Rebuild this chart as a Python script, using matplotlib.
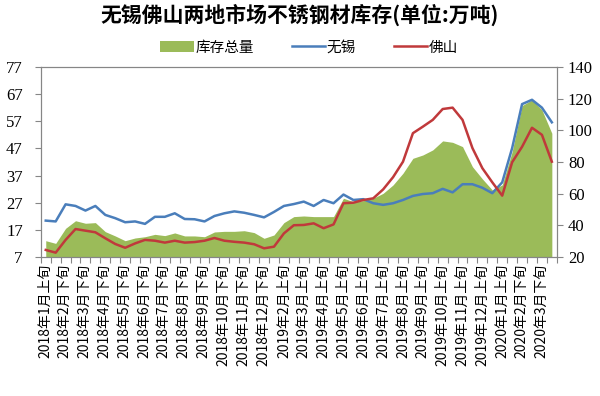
#!/usr/bin/env python3

'''
    Stainless steel inventory in Wuxi and Foshan: total as area (right axis),
    each market as a line (left axis).
'''

import matplotlib
matplotlib.use("Agg")
import matplotlib.pyplot as plt
from matplotlib.patches import Patch
from matplotlib.lines import Line2D

plt.rcParams['font.family'] = ['Noto Sans CJK SC', 'DejaVu Sans']

tick_labels = ["2018年1月上旬", "2018年2月下旬", "2018年3月下旬", "2018年4月下旬",
               "2018年5月下旬", "2018年6月下旬", "2018年7月下旬", "2018年8月下旬",
               "2018年9月下旬", "2018年10月下旬", "2018年11月下旬", "2018年12月下旬",
               "2019年2月上旬", "2019年3月上旬", "2019年4月上旬", "2019年5月上旬",
               "2019年6月上旬", "2019年7月上旬", "2019年8月上旬", "2019年9月上旬",
               "2019年10月上旬", "2019年11月上旬", "2019年12月上旬", "2020年1月上旬",
               "2020年2月下旬", "2020年3月下旬"]

wuxi = [20.4, 20.1, 26.4, 25.8, 24.1, 25.8, 22.5, 21.3, 19.8, 20.1,
        19.2, 21.8, 21.8, 23.1, 21.0, 20.9, 20.1, 22.1, 23.1, 23.8,
        23.3, 22.5, 21.6, 23.6, 25.8, 26.5, 27.4, 25.8, 28.0, 26.8,
        30.0, 28.0, 28.3, 26.8, 26.2, 26.8, 28.0, 29.5, 30.2, 30.5,
        32.1, 30.8, 33.8, 33.8, 32.5, 30.5, 34.5, 47.1, 63.3, 64.9,
        62.0, 56.6]

foshan = [9.6, 8.6, 13.3, 17.3, 16.7, 16.1, 13.9, 11.8, 10.4, 12.0,
          13.3, 13.0, 12.3, 13.0, 12.3, 12.5, 13.0, 14.0, 13.0, 12.6,
          12.3, 11.7, 10.2, 10.8, 15.7, 18.7, 18.8, 19.4, 17.6, 19.0,
          26.8, 27.0, 28.0, 28.6, 31.9, 36.4, 42.1, 52.6, 55.0, 57.5,
          61.5, 62.0, 57.5, 47.1, 39.7, 34.5, 29.6, 41.9, 47.6, 54.6,
          52.0, 42.1]

total = [30.3, 28.6, 38.1, 42.9, 41.3, 41.7, 36.0, 33.3, 30.3, 32.0,
         32.8, 34.3, 33.5, 35.2, 33.3, 33.3, 32.8, 35.8, 36.2, 36.2,
         36.6, 35.4, 31.8, 33.9, 41.7, 45.5, 45.9, 45.5, 45.5, 45.5,
         57.1, 54.9, 55.6, 57.1, 60.2, 65.5, 72.9, 82.3, 84.4, 87.6,
         93.3, 92.4, 89.7, 77.0, 69.3, 62.3, 65.5, 86.5, 115.6, 119.2,
         112.9, 98.1]

GREEN = "#9BBB59"
BLUE = "#4A7EBB"
RED = "#C0393B"
AXIS_GRAY = "#868686"


def style_axis(ax):
    for s in ax.spines.values():
        s.set_color(AXIS_GRAY)
        s.set_linewidth(0.8)
    ax.tick_params(colors=AXIS_GRAY, labelcolor="black", width=0.8, length=4)


def inventory_chart():
    x = list(range(len(total)))
    fig = plt.figure(figsize=(6, 3.96), dpi=100)
    ax = fig.add_axes([0.068, 0.351, 0.86, 0.48])
    ax2 = ax.twinx()

    # area on the right axis, lines on the left axis drawn over it
    ax2.fill_between(x, total, 20, color=GREEN, linewidth=0)
    ax2.set_ylim(20, 140)
    ax2.set_yticks(range(20, 141, 20))
    ax.set_zorder(ax2.get_zorder() + 1)
    ax.patch.set_visible(False)

    ax.plot(x, wuxi, color=BLUE, linewidth=1.8)
    ax.plot(x, foshan, color=RED, linewidth=1.8)
    ax.set_ylim(7, 77)
    ax.set_yticks(range(7, 78, 10))
    ax.set_xlim(-0.5, len(total) - 0.5)

    ax.set_xticks([i - 0.5 for i in range(len(total) + 1)], minor=True)
    ax.set_xticks(range(0, len(total), 2))
    ax.set_xticklabels(tick_labels, rotation=90, fontsize=10)

    for a in (ax, ax2):
        style_axis(a)
    ax.tick_params(axis="x", which="major", length=0, pad=5)
    ax.tick_params(axis="x", which="minor", length=4, color=AXIS_GRAY, width=0.8)
    ax.tick_params(axis="y", pad=9)
    ax2.tick_params(axis="y", pad=4)
    for lab in ax.get_yticklabels() + ax2.get_yticklabels():
        lab.set_fontfamily(["Liberation Serif", "DejaVu Serif"])
        lab.set_fontsize(12)

    fig.suptitle("无锡佛山两地市场不锈钢材库存(单位:万吨)", x=0.5, y=0.99,
                 fontsize=15, fontweight="bold")

    handles = [Patch(facecolor=GREEN, edgecolor="none"),
               Line2D([], [], color=BLUE, linewidth=1.8),
               Line2D([], [], color=RED, linewidth=1.8)]
    fig.legend(handles, ["库存总量", "无锡", "佛山"], loc="center",
               bbox_to_anchor=(0.515, 0.88), ncol=3, frameon=False,
               fontsize=10.5, handlelength=2.3, handletextpad=0.1,
               columnspacing=2.6)

    fig.savefig("out.png", dpi=100)


if __name__ == "__main__":
    inventory_chart()
